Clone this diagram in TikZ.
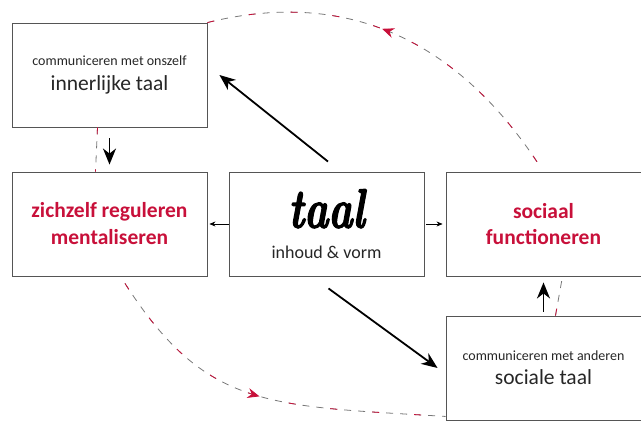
\documentclass[tikz,border=0pt]{standalone}
\usepackage{fontspec}
\newfontfamily\carlito{Carlito}
\newfontfamily\taalfamily[FakeBold=2.5]{Latin Modern Roman}
\usepackage{tikz}
\usetikzlibrary{positioning}
\usetikzlibrary{arrows.meta,decorations.markings}
\definecolor{taalrood}{RGB}{200,16,58}
\definecolor{lijngrijs}{RGB}{120,120,120}
\definecolor{randgrijs}{RGB}{85,85,85}
\setlength{\lineskiplimit}{-100pt}
\newcommand{\klein}{\fontsize{14}{12}\selectfont}
\newcommand{\groot}{\fontsize{21.5}{12}\selectfont}
\newcommand{\middel}{\fontsize{18}{12}\selectfont}
\newcommand{\taalfont}{\taalfamily\bfseries\itshape\fontsize{41}{12}\selectfont}
\tikzstyle{block} = [rectangle, draw=randgrijs, line width=0.9pt, minimum width=195pt, 
    minimum height=104pt, text centered, align=center, font=\carlito, text=black!85]
\tikzstyle{rood} = [block, text=taalrood, font=\carlito\bfseries]
\tikzstyle{bigarrow} = [line width=1.8pt, -{Stealth[length=16pt,width=13pt,inset=5pt]}]
\tikzstyle{smallarrow} = [line width=0.6pt, -{Stealth[length=6pt,width=5pt]}]
\tikzstyle{link} = [line width=0.8pt, draw=lijngrijs, dash pattern=on 7pt off 7pt,
    postaction={draw=taalrood, dash pattern=on 7pt off 35pt}]

\begin{document}
\begin{tikzpicture}[x=1pt, y=1pt, node distance=217pt]
\useasboundingbox (-109.5,-197) rectangle (531.5,224);

\node (zelf) [rood] {{\groot zichzelf reguleren}\\[15pt]{\groot mentaliseren}};
\node (taal) [block, right of=zelf] {\scalebox{1}[1.35]{\taalfont\color{black} taal}\\[19pt]{\middel inhoud \& vorm}};
\node (sociaal) [rood, right of=taal] {{\groot sociaal}\\[14pt]{\groot functioneren}};
\node (innerlijk) [block, above of=zelf, yshift=-68pt] {{\klein communiceren met onszelf}\\[13pt]{\groot innerlijke taal}};
\node (sociale) [block, below of=sociaal, yshift=73pt] {{\klein communiceren met anderen}\\[12pt]{\groot sociale taal}};
\node[coordinate] (pijl1start) [above right=10pt and 1.5pt of taal.north] {};
\node[coordinate] (pijl1eind) [right=12pt of innerlijk.east] {};
\node[coordinate] (pijl2start) [below right=12pt and 2pt of taal.south] {};
\node[coordinate] (pijl2eind) [left=8pt of sociale.west] {};
\node[coordinate] (boven) [above left=9pt and 6pt of sociaal.north] {};
\node[coordinate] (onderstart) [below right=7pt and 15.5pt of zelf.south] {};
\node[coordinate] (ondereind) [above=4pt of sociale.south west] {};

\draw [bigarrow] (pijl1start) -- (pijl1eind);
\draw [bigarrow] (pijl2start) -- (pijl2eind);
\draw [bigarrow, shorten <=11pt, shorten >=7pt] (innerlijk.south) -- (zelf.north);
\draw [bigarrow, shorten <=4pt, shorten >=6pt] (sociale.north) -- (sociaal.south);
\draw [smallarrow, shorten >=2pt] (taal.west) -- (zelf.east);
\draw [smallarrow, shorten <=2pt, shorten >=3pt] (taal.east) -- (sociaal.west);

\draw [link, postaction={decorate, decoration={markings, mark=at position 0.46 with 
    {\arrowreversed[taalrood]{Stealth[length=12pt,width=10pt,inset=4pt]}}}}] 
    (innerlijk.north east) .. controls +(145.5,36) and +(-77,116.2) .. (boven);
\draw [link, postaction={decorate, decoration={markings, mark=at position 0.49 with 
    {\arrow[taalrood]{Stealth[length=12pt,width=10pt,inset=4pt]}}}}] 
    (onderstart) .. controls +(81,-126) and +(-178,11) .. (ondereind);
\draw [link] ([xshift=-12pt]innerlijk.south) -- ([xshift=-14pt]zelf.north);
\draw [link] ([xshift=12pt]sociale.north) -- ([xshift=19pt]sociaal.south);

\end{tikzpicture}
\end{document}
